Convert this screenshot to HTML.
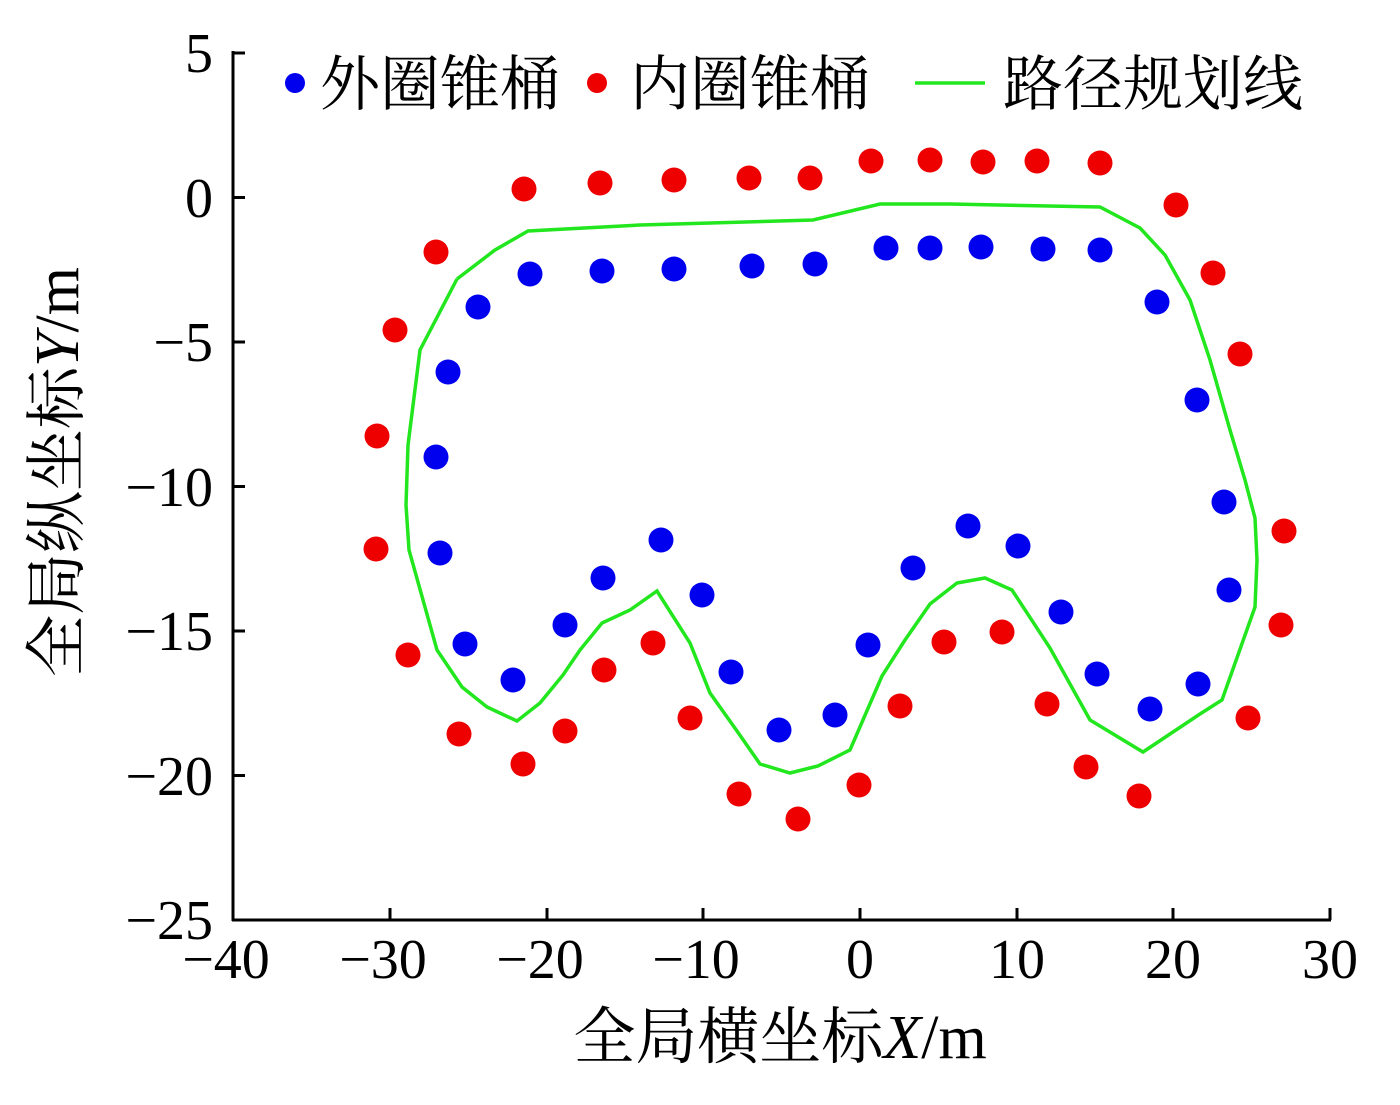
<!DOCTYPE html>
<html><head><meta charset="utf-8"><style>
html,body{margin:0;padding:0;background:#fff;}
svg text{font-family:"Liberation Serif","Noto Serif CJK SC",serif;fill:#000;}
</style></head><body>
<svg width="1400" height="1100" viewBox="0 0 1400 1100" xmlns="http://www.w3.org/2000/svg">
<rect width="1400" height="1100" fill="#fff"/>
<g stroke="#000" stroke-width="3" fill="none">
<line x1="233" y1="51" x2="233" y2="921"/>
<line x1="232" y1="920" x2="1331" y2="920"/>
<line x1="233" y1="53" x2="245" y2="53"/>
<line x1="233" y1="197.5" x2="245" y2="197.5"/>
<line x1="233" y1="342" x2="245" y2="342"/>
<line x1="233" y1="486.5" x2="245" y2="486.5"/>
<line x1="233" y1="631" x2="245" y2="631"/>
<line x1="233" y1="775.5" x2="245" y2="775.5"/>
<line x1="390" y1="920" x2="390" y2="908"/>
<line x1="547" y1="920" x2="547" y2="908"/>
<line x1="703" y1="920" x2="703" y2="908"/>
<line x1="860" y1="920" x2="860" y2="908"/>
<line x1="1017" y1="920" x2="1017" y2="908"/>
<line x1="1173" y1="920" x2="1173" y2="908"/>
<line x1="1330" y1="920" x2="1330" y2="908"/>
</g>
<g font-size="56" text-anchor="end">
<text x="213" y="72">5</text>
<text x="213" y="217">0</text>
<text x="213" y="361">−5</text>
<text x="213" y="506">−10</text>
<text x="213" y="650">−15</text>
<text x="213" y="795">−20</text>
<text x="213" y="939">−25</text>
</g>
<g font-size="56" text-anchor="middle">
<text x="226" y="978">−40</text>
<text x="383" y="978">−30</text>
<text x="540" y="978">−20</text>
<text x="696" y="978">−10</text>
<text x="860" y="978">0</text>
<text x="1017" y="978">10</text>
<text x="1173" y="978">20</text>
<text x="1330" y="978">30</text>
</g>
<text x="780" y="1058" font-size="62" text-anchor="middle">全局横坐标<tspan font-style="italic">X</tspan>/m</text>
<text transform="translate(78,472) rotate(-90)" font-size="62" text-anchor="middle">全局纵坐标<tspan font-style="italic">Y</tspan>/m</text>
<polyline fill="none" stroke="#22e61e" stroke-width="3.5" points="457,279 495,250 528,231 640,225 813,220 880,204 950,204 1100,207 1140,228 1165,255 1190,300 1210,360 1230,430 1245,480 1255,518 1257,560 1255,607 1222,700 1200,714 1143,752 1090,720 1050,648 1012,590 985,578 957,583 930,604 905,640 882,676 850,750 818,766 790,773 760,764 737,731 710,693 690,643 657,591 630,610 602,623 580,650 563,675 540,703 517,721 487,707 462,687 437,650 409,550 406,505 408,445 420,350 457,279"/>
<g fill="#0000ee">
<circle cx="478" cy="307" r="12.5"/><circle cx="448" cy="372" r="12.5"/><circle cx="436" cy="457" r="12.5"/><circle cx="440" cy="553" r="12.5"/><circle cx="465" cy="644" r="12.5"/><circle cx="513" cy="680" r="12.5"/><circle cx="565" cy="625" r="12.5"/><circle cx="603" cy="578" r="12.5"/><circle cx="661" cy="540" r="12.5"/><circle cx="702" cy="595" r="12.5"/><circle cx="731" cy="672" r="12.5"/><circle cx="779" cy="730" r="12.5"/><circle cx="835" cy="715" r="12.5"/><circle cx="868" cy="645" r="12.5"/><circle cx="913" cy="568" r="12.5"/><circle cx="968" cy="526" r="12.5"/><circle cx="1018" cy="546" r="12.5"/><circle cx="1061" cy="612" r="12.5"/><circle cx="1097" cy="674" r="12.5"/><circle cx="1150" cy="709" r="12.5"/><circle cx="1198" cy="684" r="12.5"/><circle cx="1229" cy="590" r="12.5"/><circle cx="1224" cy="502" r="12.5"/><circle cx="1197" cy="400" r="12.5"/><circle cx="1157" cy="302" r="12.5"/><circle cx="1100" cy="250" r="12.5"/><circle cx="1043" cy="249" r="12.5"/><circle cx="981" cy="247" r="12.5"/><circle cx="930" cy="248" r="12.5"/><circle cx="886" cy="248" r="12.5"/><circle cx="815" cy="264" r="12.5"/><circle cx="752" cy="266" r="12.5"/><circle cx="674" cy="269" r="12.5"/><circle cx="602" cy="271" r="12.5"/><circle cx="530" cy="274" r="12.5"/>
<circle cx="295" cy="83" r="10"/>
</g>
<g fill="#ee0000">
<circle cx="436" cy="252" r="12.5"/><circle cx="395" cy="330" r="12.5"/><circle cx="377" cy="436" r="12.5"/><circle cx="376" cy="549" r="12.5"/><circle cx="408" cy="655" r="12.5"/><circle cx="459" cy="734" r="12.5"/><circle cx="523" cy="764" r="12.5"/><circle cx="565" cy="731" r="12.5"/><circle cx="604" cy="670" r="12.5"/><circle cx="653" cy="643" r="12.5"/><circle cx="690" cy="718" r="12.5"/><circle cx="739" cy="794" r="12.5"/><circle cx="798" cy="819" r="12.5"/><circle cx="859" cy="785" r="12.5"/><circle cx="900" cy="706" r="12.5"/><circle cx="944" cy="642" r="12.5"/><circle cx="1002" cy="632" r="12.5"/><circle cx="1047" cy="704" r="12.5"/><circle cx="1086" cy="767" r="12.5"/><circle cx="1139" cy="796" r="12.5"/><circle cx="1248" cy="718" r="12.5"/><circle cx="1281" cy="625" r="12.5"/><circle cx="1284" cy="531" r="12.5"/><circle cx="1240" cy="354" r="12.5"/><circle cx="1213" cy="273" r="12.5"/><circle cx="1176" cy="205" r="12.5"/><circle cx="1100" cy="163" r="12.5"/><circle cx="1037" cy="161" r="12.5"/><circle cx="983" cy="162" r="12.5"/><circle cx="930" cy="160" r="12.5"/><circle cx="871" cy="161" r="12.5"/><circle cx="810" cy="178" r="12.5"/><circle cx="749" cy="178" r="12.5"/><circle cx="674" cy="180" r="12.5"/><circle cx="600" cy="183" r="12.5"/><circle cx="524" cy="189" r="12.5"/>
<circle cx="597" cy="83" r="10"/>
</g>
<line x1="915" y1="83" x2="985" y2="83" stroke="#22e61e" stroke-width="3.5"/>
<g font-size="60">
<text x="320" y="105">外圈锥桶</text>
<text x="630" y="105">内圈锥桶</text>
<text x="1003" y="105">路径规划线</text>
</g>
</svg>
</body></html>
